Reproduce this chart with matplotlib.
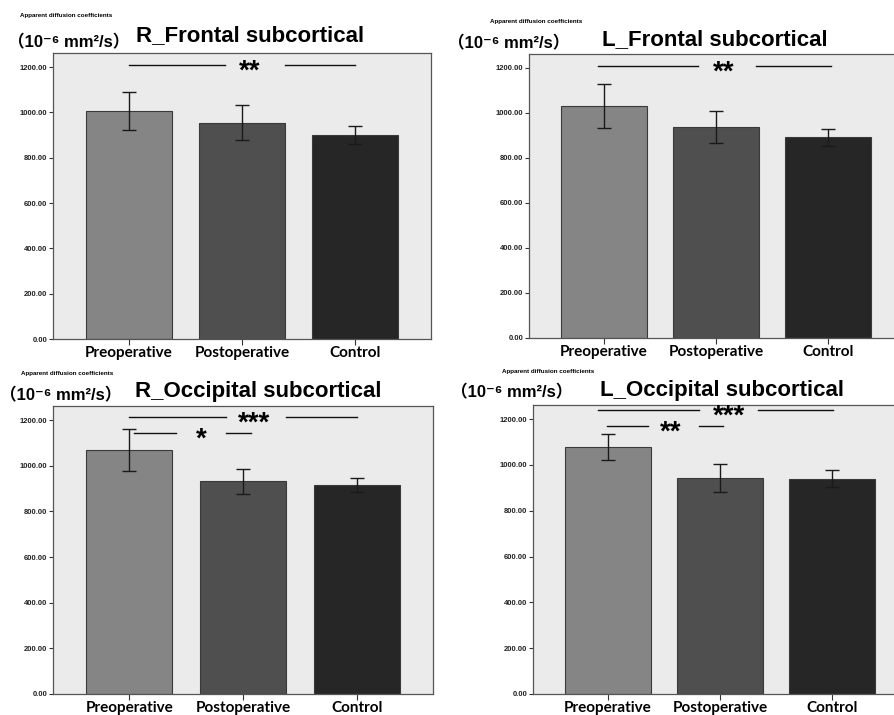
import matplotlib
matplotlib.use("Agg")
import matplotlib.pyplot as plt
import numpy as np

W, H = 895, 715

groups = ["Preoperative", "Postoperative", "Control"]
titles = ["R_Frontal subcortical", "L_Frontal subcortical",
          "R_Occipital subcortical", "L_Occipital subcortical"]

# mean values and error bar limits
r_frontal = [1006, 954, 900]
r_frontal_lo = [923, 877, 860]
r_frontal_hi = [1090, 1031, 938]

l_frontal = [1030, 938, 893]
l_frontal_lo = [934, 868, 855]
l_frontal_hi = [1128, 1008, 930]

r_occipital = [1070, 933, 918]
r_occipital_lo = [978, 877, 887]
r_occipital_hi = [1160, 987, 946]

l_occipital = [1077, 945, 939]
l_occipital_lo = [1022, 884, 903]
l_occipital_hi = [1134, 1006, 977]

means = [r_frontal, l_frontal, r_occipital, l_occipital]
lows = [r_frontal_lo, l_frontal_lo, r_occipital_lo, l_occipital_lo]
highs = [r_frontal_hi, l_frontal_hi, r_occipital_hi, l_occipital_hi]

# significance marks: (y, left segment, right segment, star x, label)
sig_marks = [
    [(1208, (0.0, 0.85), (1.38, 2.0), 1.07, "**")],
    [(1208, (-0.05, 0.84), (1.36, 2.03), 1.07, "**")],
    [(1215, (0.0, 0.85), (1.38, 2.0), 1.1, "***"),
     (1145, (0.04, 0.41), (0.85, 1.07), 0.63, "*")],
    [(1240, (-0.09, 0.81), (1.34, 2.01), 1.08, "***"),
     (1172, (-0.01, 0.36), (0.81, 1.03), 0.56, "**")],
]

bar_colors = ["#858585", "#4f4f4f", "#262626"]
yticks = [0, 200, 400, 600, 800, 1000, 1200]

# axes boxes in pixels: left, top, right, bottom
boxes = [(53, 53, 431, 339), (529, 54, 903, 338),
         (53, 406, 433, 694), (533, 405, 907, 694)]
# title centre x / baseline y, unit label x / y, small label x / y
title_pos = [(250, 41), (715, 45), (258, 397), (722, 396)]
unit_pos = [(8, 47), (448, 48), (0, 400), (451, 397)]
small_pos = [(20, 15), (490, 22), (21, 373), (502, 372)]

def fx(x):
    return x / W

def fy(y):
    return 1 - y / H

fig = plt.figure(figsize=(W / 100, H / 100), dpi=100, facecolor="white")

for k in range(4):
    l, t, r, b = boxes[k]
    ax = fig.add_axes([fx(l), fy(b), (r - l) / W, (b - t) / H])
    ax.set_facecolor("#ebebeb")
    x = np.arange(len(groups))
    m = np.array(means[k])
    err = [m - np.array(lows[k]), np.array(highs[k]) - m]
    ax.bar(x, m, width=0.76, color=bar_colors, edgecolor="#3a3a3a", linewidth=0.8, zorder=2)
    ax.errorbar(x, m, yerr=err, fmt="none", ecolor="#1a1a1a", elinewidth=1.0,
                capsize=5, capthick=1.0, zorder=3)
    ax.set_xlim(-0.67, 2.67)
    ax.set_ylim(0, 1262)
    ax.set_yticks(yticks)
    ax.set_yticklabels(["%.2f" % v for v in yticks], fontsize=5.5, fontweight="bold",
                       family="Liberation Sans", color="#222222")
    ax.set_xticks(x)
    ax.set_xticklabels(groups, fontsize=11, fontweight="bold", family="Lato")
    ax.tick_params(axis="y", length=3, width=0.8, pad=1, color="#333333")
    ax.tick_params(axis="x", length=4, width=0.8, pad=1, color="#333333")
    for s in ax.spines.values():
        s.set_color("#555555")
        s.set_linewidth(0.9)

    for y, seg1, seg2, xs, lab in sig_marks[k]:
        ax.plot(seg1, [y, y], color="#111111", lw=1.0, zorder=4)
        ax.plot(seg2, [y, y], color="#111111", lw=1.0, zorder=4)
        ax.text(xs, y - 30, lab, ha="center", va="center", fontsize=20,
                fontweight="bold", family="Liberation Sans", zorder=5)

    tx, ty = title_pos[k]
    fig.text(fx(tx), fy(ty), titles[k], ha="center", va="baseline", fontsize=16,
             fontweight="bold", family="Liberation Sans")
    ux, uy = unit_pos[k]
    fig.text(fx(ux), fy(uy), "（10⁻⁶ mm²/s）", ha="left", va="baseline", fontsize=12,
             fontweight="bold", family=["Liberation Sans", "Noto Sans CJK SC", "DejaVu Sans"])
    sx, sy = small_pos[k]
    fig.text(fx(sx), fy(sy), "Apparent diffusion coefficients", ha="left", va="center",
             fontsize=4.5, fontweight="bold", family="Liberation Sans")

fig.savefig("out.png", dpi=100, facecolor="white")
